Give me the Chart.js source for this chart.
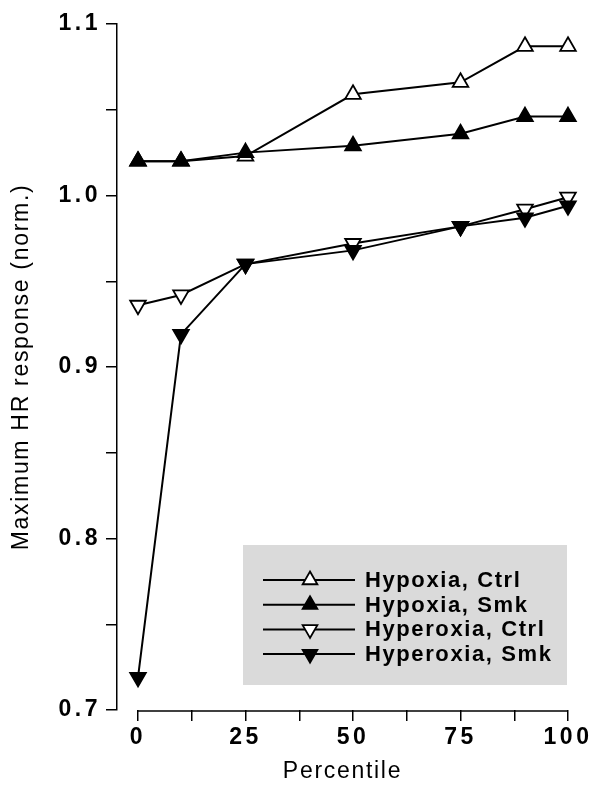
<!DOCTYPE html>
<html><head><meta charset="utf-8">
<script src="https://cdn.jsdelivr.net/npm/chart.js@4"></script>
<style>html,body{margin:0;padding:0;background:#fff}</style>
</head><body>
<canvas id="c" width="599" height="790" style="width:599px;height:790px;display:block"></canvas>
<script>
const percentiles   = [0, 10, 25, 50, 75, 90, 100];
const hypoxiaCtrl   = [1.020, 1.020, 1.023, 1.059, 1.066, 1.087, 1.087];
const hypoxiaSmk    = [1.020, 1.020, 1.025, 1.029, 1.036, 1.046, 1.046];
const hyperoxiaCtrl = [0.936, 0.942, 0.960, 0.972, 0.982, 0.992, 0.999];
const hyperoxiaSmk  = [0.719, 0.919, 0.960, 0.968, 0.982, 0.987, 0.994];
const seriesNames   = ['Hypoxia, Ctrl', 'Hypoxia, Smk', 'Hyperoxia, Ctrl', 'Hyperoxia, Smk'];
const xTicks  = [0, 12.5, 25, 37.5, 50, 62.5, 75, 87.5, 100];
const xLabels = ['0', '', '25', '', '50', '', '75', '', '100'];
const yTicks  = [0.7, 0.75, 0.8, 0.85, 0.9, 0.95, 1.0, 1.05, 1.1];
const yLabels = ['0.7', '', '0.8', '', '0.9', '', '1.0', '', '1.1'];
const xTitle = 'Percentile';
const yTitle = 'Maximum HR response (norm.)';

const FONT = "'Liberation Sans', Arial, Helvetica, sans-serif";
Chart.defaults.font.family = FONT;
Chart.defaults.color = '#000';

function pts(vals){ return percentiles.map((p,i)=>({x:p, y:vals[i]})); }
function ds(label, vals, filled, down, order){
  return {
    label, data: pts(vals), order,
    borderColor:'#000', borderWidth:2, tension:0, fill:false, clip:false,
    pointStyle:'triangle', pointRadius:9, pointHoverRadius:9,
    pointRotation: down ? 180 : 0,
    pointBackgroundColor: filled ? '#000' : '#fff',
    pointBorderColor:'#000', pointBorderWidth:1.8
  };
}
const datasets = [
  ds(seriesNames[0], hypoxiaCtrl, false, false, 1),
  ds(seriesNames[1], hypoxiaSmk, true, false, 0),
  ds(seriesNames[2], hyperoxiaCtrl, false, true, 1),
  ds(seriesNames[3], hyperoxiaSmk, true, true, 0)
];

const spacingPlugin = {
  id:'spacing',
  beforeDraw(chart){
    Object.values(chart.scales).forEach(s=>{
      if (s._wrapped) return;
      s._wrapped = true;
      const dt = s.drawTitle, dl = s.drawLabels;
      s.drawTitle = function(...a){ const c=this.ctx; const p=c.letterSpacing; c.letterSpacing='1.7px'; dt.apply(this,a); c.letterSpacing=p; };
      s.drawLabels = function(...a){ const c=this.ctx; const p=c.letterSpacing; c.letterSpacing='3.5px'; dl.apply(this,a); c.letterSpacing=p; };
    });
  }
};

const extrasPlugin = {
  id:'extras',
  afterDraw(chart){
    const ctx = chart.ctx, xs = chart.scales.x, area = chart.chartArea;
    // x axis line spanning 0..100
    ctx.save();
    ctx.strokeStyle='#000'; ctx.lineWidth=1.5;
    ctx.beginPath();
    ctx.moveTo(xs.getPixelForValue(xTicks[0]), area.bottom+1);
    ctx.lineTo(xs.getPixelForValue(xTicks[xTicks.length-1]), area.bottom+1);
    ctx.stroke();
    // legend
    const bx=243, by=545, bw=324, bh=140;
    ctx.fillStyle='#dadada';
    ctx.fillRect(bx,by,bw,bh);
    const rowY0=580, rowDY=24.7;
    chart.data.datasets.forEach((d,i)=>{
      const y = rowY0 + i*rowDY;
      ctx.strokeStyle='#000'; ctx.lineWidth=2;
      ctx.beginPath(); ctx.moveTo(263,y); ctx.lineTo(355,y); ctx.stroke();
      ctx.fillStyle=d.pointBackgroundColor; ctx.strokeStyle='#000'; ctx.lineWidth=1.8;
      Chart.helpers.drawPoint(ctx,{pointStyle:'triangle',rotation:d.pointRotation,radius:8.5,borderWidth:1.8},310,y);
      ctx.fillStyle='#000';
      ctx.font = "bold 22px " + FONT;
      ctx.letterSpacing='1.6px';
      ctx.textAlign='left'; ctx.textBaseline='middle';
      ctx.fillText(d.label, 365, y+1);
      ctx.letterSpacing='0px';
    });
    ctx.restore();
  }
};

new Chart(document.getElementById('c'), {
  type:'line',
  data:{ datasets },
  options:{
    responsive:false, animation:false, devicePixelRatio:1,
    layout:{ padding:{ top:24, right:31, left:0, bottom:0 } },
    plugins:{ legend:{display:false}, tooltip:{enabled:false} },
    scales:{
      x:{
        type:'linear', min:-4.884, max:100,
        afterBuildTicks(s){ s.ticks = xTicks.map(v=>({value:v})); },
        afterFit(s){ s.height = 80; },
        grid:{ drawOnChartArea:false, drawTicks:true, tickLength:11, color:'#000', lineWidth:1.5 },
        border:{ display:false },
        ticks:{ autoSkip:false, maxRotation:0, padding:3, font:{size:23, weight:'bold'}, color:'#000',
                callback:(v,i)=>xLabels[i] },
        title:{ display:true, text:xTitle, font:{size:23}, color:'#000', padding:{top:0,bottom:5} }
      },
      y:{
        type:'linear', min:0.7, max:1.1,
        afterBuildTicks(s){ s.ticks = yTicks.map(v=>({value:v})); },
        afterFit(s){ s.width = 117; },
        grid:{ drawOnChartArea:false, drawTicks:true, tickLength:11, color:'#000', lineWidth:1.5 },
        border:{ display:true, color:'#000', width:1.5 },
        ticks:{ autoSkip:false, padding:5, font:{size:23, weight:'bold'}, color:'#000',
                callback:(v,i)=>yLabels[i] },
        title:{ display:true, text:yTitle, font:{size:23}, color:'#000', padding:{top:8,bottom:0} }
      }
    }
  },
  plugins:[spacingPlugin, extrasPlugin]
});
</script>
</body></html>
